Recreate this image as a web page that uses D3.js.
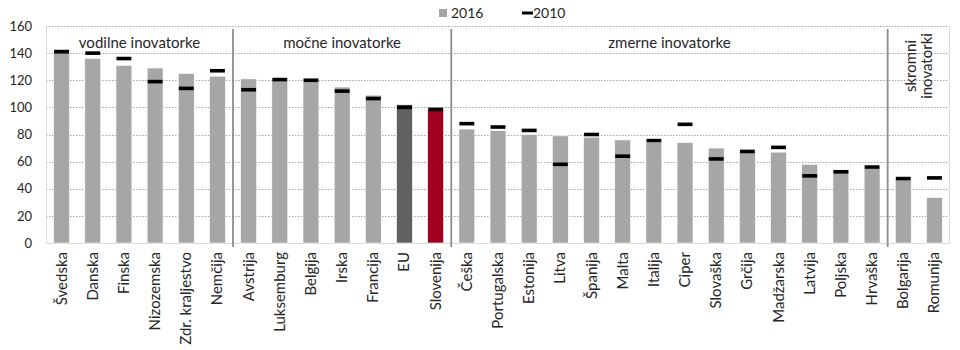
<!DOCTYPE html>
<html>
<head>
<meta charset="utf-8">
<script src="https://cdn.jsdelivr.net/npm/d3@7"></script>
<style>
  body { margin: 0; background: #fff; }
  #chart { width: 960px; height: 350px; }
  text { font-family: Lato, "Open Sans", sans-serif; fill: #262626; }
  .axis_y text { font-size: 13px; }
  .catLabel { font-size: 15px; }
  .groupLabel { font-size: 15px; }
  .legend text { font-size: 14px; }
</style>
</head>
<body>
<div id="chart"></div>
<script>
const categories = ["Švedska", "Danska", "Finska", "Nizozemska", "Zdr. kraljestvo", "Nemčija",
    "Avstrija", "Luksemburg", "Belgija", "Irska", "Francija", "EU", "Slovenija",
    "Češka", "Portugalska", "Estonija", "Litva", "Španija", "Malta", "Italija", "Ciper",
    "Slovaška", "Grčija", "Madžarska", "Latvija", "Poljska", "Hrvaška",
    "Bolgarija", "Romunija"];

const values2016 = [143, 136, 131, 129, 125, 123,
    121, 120, 119, 115, 109, 102, 98,
    84, 83, 80, 79, 78, 76, 74, 74, 70, 67, 67, 58, 54, 55,
    46.5, 33.5];

const values2010 = [141, 140, 136, 119, 114, 127,
    113, 120.5, 120, 112, 106.5, 100, 98.5,
    88, 85.5, 83, 58, 80, 64, 75.5, 87.5, 62, 67.5, 70.5, 49.5, 52.5, 56,
    47.5, 48];

// groups: label lines + first member of each group
const groupLabels = [["vodilne inovatorke"], ["močne inovatorke"], ["zmerne inovatorke"], ["skromni", "inovatorki"]];
const groupFirst = ["Švedska", "Avstrija", "Češka", "Bolgarija"];

const yTicks = [0, 20, 40, 60, 80, 100, 120, 140, 160];
const seriesNames = ["2016", "2010"];

const barColor = "#a6a6a6";
const specialColors = {"EU": "#616161", "Slovenija": "#a0001f"};

const width = 960;
const height = 350;
const margin = {top: 26, left: 46, bottom: 107, right: 10};
const clipWidth = width - margin.left - margin.right;
const clipHeight = height - margin.top - margin.bottom;

const svg = d3.select("#chart").append("svg")
    .attr("width", width)
    .attr("height", height);

const g = svg.append("g")
    .attr("transform", "translate(" + margin.left + "," + margin.top + ")");

const xScale = d3.scaleBand()
    .domain(categories)
    .range([0, clipWidth])
    .paddingInner(0.49)
    .paddingOuter(0.245);

const yScale = d3.scaleLinear()
    .domain([0, 160])
    .range([clipHeight, 0]);

// gridlines (dotted)
g.append("g")
    .attr("class", "grid")
    .selectAll("line")
    .data(yTicks.filter(d => d > 0))
    .enter().append("line")
    .attr("x1", 0)
    .attr("x2", clipWidth)
    .attr("y1", d => Math.round(yScale(d)) + 0.5)
    .attr("y2", d => Math.round(yScale(d)) + 0.5)
    .attr("stroke", "#a6a6a6")
    .attr("stroke-width", 1)
    .attr("stroke-dasharray", "1.5,1.5");

// plot frame: left, right, bottom
const frame = g.append("g").attr("stroke", "#d9d9d9").attr("stroke-width", 1);
frame.append("line").attr("x1", 0.5).attr("x2", 0.5).attr("y1", 0).attr("y2", clipHeight);
frame.append("line").attr("x1", clipWidth - 0.5).attr("x2", clipWidth - 0.5).attr("y1", 0).attr("y2", clipHeight);
frame.append("line").attr("x1", 0).attr("x2", clipWidth).attr("y1", clipHeight + 0.5).attr("y2", clipHeight + 0.5);

// y axis
const yAxis = g.append("g")
    .attr("class", "axis_y")
    .call(d3.axisLeft(yScale).tickValues(yTicks).tickSize(0).tickPadding(14));
yAxis.select(".domain").remove();

// bars 2016
g.append("g")
    .attr("class", "bars")
    .selectAll("rect")
    .data(categories)
    .enter().append("rect")
    .attr("x", d => xScale(d))
    .attr("y", (d, i) => yScale(values2016[i]))
    .attr("width", xScale.bandwidth())
    .attr("height", (d, i) => clipHeight - yScale(values2016[i]))
    .attr("fill", d => specialColors[d] || barColor)
    .attr("stroke", "#ffffff")
    .attr("stroke-width", 0.6);

// markers 2010
const markerH = 3.6;
g.append("g")
    .attr("class", "markers")
    .selectAll("rect")
    .data(categories)
    .enter().append("rect")
    .attr("x", d => xScale(d) + 0.5)
    .attr("y", (d, i) => yScale(values2010[i]) - markerH / 2)
    .attr("width", xScale.bandwidth() - 1)
    .attr("height", markerH)
    .attr("fill", "#000");

// group separators and labels
const step = xScale.step();
const groupStartX = groupFirst.map(c => xScale(c) - (step - xScale.bandwidth()) / 2);
const groupEndX = groupStartX.slice(1).concat([clipWidth]);

g.append("g")
    .attr("class", "separators")
    .selectAll("line")
    .data(groupStartX.slice(1))
    .enter().append("line")
    .attr("x1", d => d)
    .attr("x2", d => d)
    .attr("y1", 3)
    .attr("y2", clipHeight + 4)
    .attr("stroke", "#8c8c8c")
    .attr("stroke-width", 1.8);

groupLabels.forEach(function(lines, i) {
    const cx = (groupStartX[i] + groupEndX[i]) / 2;
    if (lines.length === 1) {
        g.append("text")
            .attr("class", "groupLabel")
            .attr("x", cx)
            .attr("y", 22)
            .attr("text-anchor", "middle")
            .text(lines[0]);
    } else {
        const t = g.append("text")
            .attr("class", "groupLabel")
            .attr("transform", "translate(" + cx + "," + 40 + ") rotate(-90)")
            .attr("text-anchor", "middle");
        lines.forEach(function(line, j) {
            t.append("tspan")
                .attr("x", 0)
                .attr("y", (j - (lines.length - 1) / 2) * 16 + 5)
                .text(line);
        });
    }
});

// category labels
g.append("g")
    .attr("class", "axis_x")
    .selectAll("text")
    .data(categories)
    .enter().append("text")
    .attr("class", "catLabel")
    .attr("transform", d => "translate(" + (xScale(d) + xScale.bandwidth() / 2 + 5) + "," + (clipHeight + 9) + ") rotate(-90)")
    .attr("text-anchor", "end")
    .text(d => d);

// legend
const legend = svg.append("g").attr("class", "legend");
legend.append("rect")
    .attr("x", 439).attr("y", 9)
    .attr("width", 8).attr("height", 8)
    .attr("fill", barColor);
legend.append("text")
    .attr("x", 451).attr("y", 18)
    .text(seriesNames[0]);
legend.append("rect")
    .attr("x", 522).attr("y", 11.5)
    .attr("width", 11).attr("height", 3)
    .attr("fill", "#000");
legend.append("text")
    .attr("x", 533).attr("y", 18)
    .text(seriesNames[1]);
</script>
</body>
</html>
